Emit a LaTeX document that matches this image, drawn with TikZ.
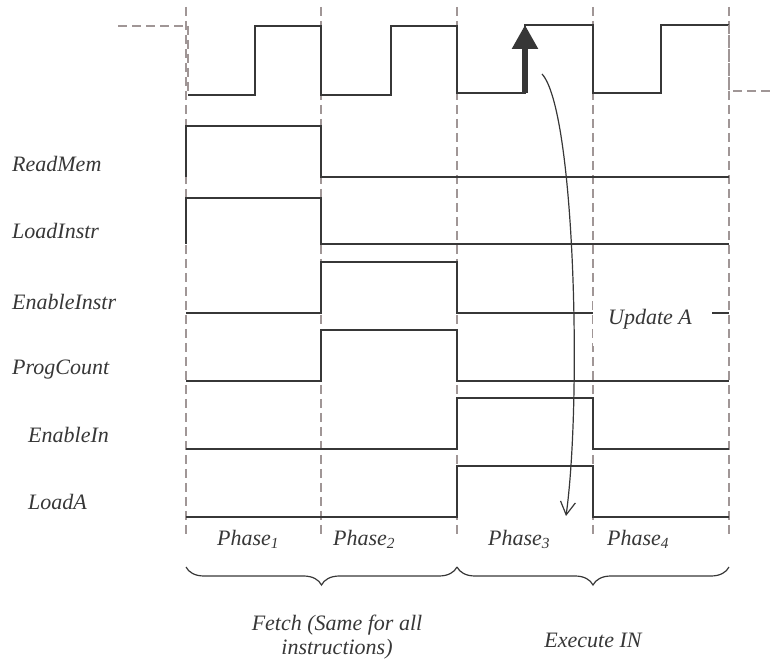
\documentclass[tikz,border=0pt]{standalone}
\usepackage{fontspec}
\setmainfont{Liberation Serif}
\usetikzlibrary{arrows.meta,decorations.pathreplacing}
\definecolor{sig}{RGB}{55,55,55}
\definecolor{gridc}{RGB}{160,150,150}
\begin{document}
\begin{tikzpicture}[x=1pt,y=-1pt,
  sigline/.style={draw=sig,line width=1.3pt},
  gridline/.style={draw=gridc,line width=1.2pt,dash pattern=on 9pt off 5pt},
  lbl/.style={anchor=base west,font=\fontsize{22}{26}\selectfont\itshape,text=sig,inner sep=0pt},
  ctr/.style={anchor=base,font=\fontsize{22}{26}\selectfont\itshape,text=sig,inner sep=0pt},
  brc/.style={draw=sig,line width=1.2pt,decorate,decoration={brace,mirror,amplitude=18pt}}]
\useasboundingbox (0,0) rectangle (772,660);
% grid
\foreach \gx in {186,321,457,593,729} { \draw[gridline] (\gx,7) -- (\gx,535); }
% clock
\draw[gridline] (118,26) -- (186,26);
\draw[gridline] (188,26) -- (188,95);
\draw[sigline] (188,95) -- (255,95) -- (255,26) -- (321,26) -- (321,95) -- (391,95) -- (391,26) -- (457,26) -- (457,93) -- (525,93) -- (525,25) -- (593,25) -- (593,93) -- (661,93) -- (661,25) -- (729,25);
\draw[gridline] (729,25) -- (729,91) -- (772,91);
% signals
\draw[sigline] (186,177) -- (186,126) -- (321,126) -- (321,177) -- (729,177);
\draw[sigline] (186,244) -- (186,198) -- (321,198) -- (321,244) -- (729,244);
\draw[sigline] (186,313) -- (321,313) -- (321,262) -- (457,262) -- (457,313) -- (729,313);
\draw[sigline] (186,381) -- (321,381) -- (321,330) -- (457,330) -- (457,381) -- (729,381);
\draw[sigline] (186,449) -- (457,449) -- (457,398) -- (593,398) -- (593,449) -- (729,449);
\draw[sigline] (186,517) -- (457,517) -- (457,466) -- (593,466) -- (593,517) -- (729,517);
% update A
\fill[white] (593,296) rectangle (712,346);
\node[ctr] (upd) at (650,325) {Update A};
% labels
\node[lbl] (readmem) at (12,172) {ReadMem};
\node[lbl] (loadinstr) at (12,239) {LoadInstr};
\node[lbl] (enableinstr) at (12,310) {EnableInstr};
\node[lbl] (progcount) at (12,375) {ProgCount};
\node[lbl] (enablein) at (28,443) {EnableIn};
\node[lbl] (loada) at (28,510) {LoadA};
% phases
\node[lbl] (ph1) at (217,545) {Phase\textsubscript{1}};
\node[lbl] (ph2) at (333,545) {Phase\textsubscript{2}};
\node[lbl] (ph3) at (488,545) {Phase\textsubscript{3}};
\node[lbl] (ph4) at (607,545) {Phase\textsubscript{4}};
% braces
\coordinate (f1) at (186,567);
\coordinate (f2) at (457,567);
\coordinate (e2) at (729,567);
\draw[brc] (f1) -- (f2);
\draw[brc] (f2) -- (e2);
\node[ctr] (fetch1) at (337,630) {Fetch (Same for all};
\node[ctr] (fetch2) at (337,654) {instructions)};
\node[ctr] (exec) at (593,647) {Execute IN};
% arrows
\coordinate (ab) at (525,93);
\coordinate (at) at (525,25);
\draw[draw=sig,line width=5.5pt,-{Triangle[length=24pt,width=25pt]}] (ab) -- (at);
\coordinate (cs) at (542,74);
\coordinate (ce) at (566,516);
\draw[draw=sig,line width=1.2pt,-{Straight Barb[length=13pt,width=15pt]}] (cs) .. controls (575,110) and (582,400) .. (ce);
\end{tikzpicture}
\end{document}
